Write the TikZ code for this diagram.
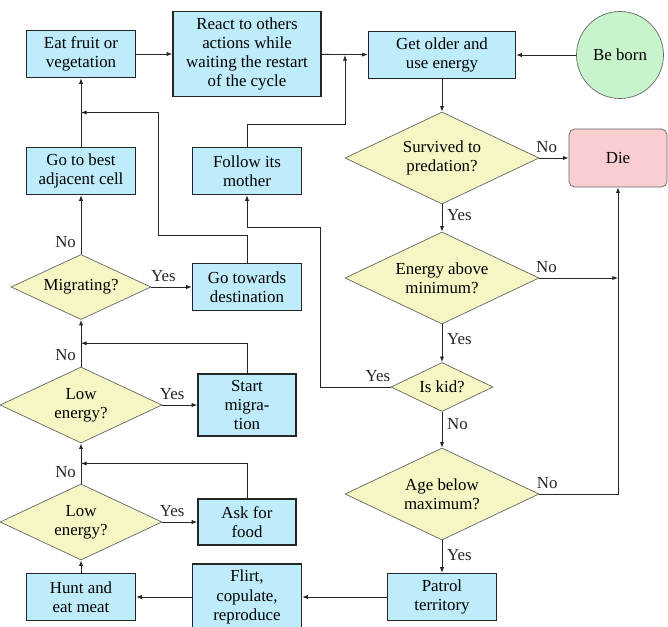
\documentclass[tikz,border=0pt]{standalone}
\usepackage{fontspec}
\setmainfont{Liberation Serif}
\usepackage{xcolor}
\definecolor{stepblue}{RGB}{190,236,250}
\definecolor{askyellow}{RGB}{246,246,196}
\definecolor{diepink}{RGB}{250,205,208}
\definecolor{borngreen}{RGB}{200,244,204}
\usetikzlibrary{shapes.geometric, arrows.meta, positioning, calc}
\tikzset{
  actbox/.style={
    rectangle, draw=black!85, fill=stepblue, line width=0.9pt,
    minimum width=2.725cm, minimum height=1.175cm,
    align=center, inner sep=1pt
  },
  decision/.style={
    diamond, aspect=2, draw=black!60, fill=askyellow, line width=0.5pt,
    align=center, inner sep=0pt
  },
  endbox/.style={
    rectangle, rounded corners=4pt, draw=black!60, fill=diepink, line width=0.5pt,
    minimum width=2.45cm, minimum height=1.45cm, align=center
  },
  bornnode/.style={
    circle, draw=black!60, fill=borngreen, line width=0.5pt,
    minimum size=2.175cm, align=center
  },
  arrow/.style={line width=0.6pt, -{Latex[length=4pt, width=3pt]}, color=black!85},
}

\begin{document}
\begin{tikzpicture}[on grid, font=\fontsize{12}{13.7}\selectfont]
  \useasboundingbox (0,0) rectangle (16.7,-15.675);

  % --- Right column: life cycle checks ---
  \node (older) [actbox, minimum width=3.675cm] at (11.05,-1.375) {Get older and\\use energy};
  \node (born) [bornnode, right=4.45cm of older] {Be born};
  \node (survived) [decision, minimum width=4.85cm, minimum height=2.3cm, below=2.575cm of older]
        {Survived to\\predation?};
  \node (die) [endbox, right=4.4cm of survived] {Die};
  \node (energy) [decision, minimum width=4.85cm, minimum height=2.3cm, below=3.0cm of survived]
        {Energy above\\minimum?};
  \node (kid) [decision, minimum width=2.55cm, minimum height=1.225cm, below=2.725cm of energy]
        {Is kid?};
  \node (age) [decision, minimum width=4.85cm, minimum height=2.3cm, below=2.675cm of kid]
        {Age below\\maximum?};
  \node (patrol) [actbox, below=2.575cm of age] {Patrol\\territory};

  % --- Bottom row ---
  \node (flirt) [actbox, minimum height=1.65cm, left=4.875cm of patrol] {Flirt,\\copulate,\\reproduce};
  \node (hunt) [actbox, left=4.15cm of flirt] {Hunt and\\eat meat};

  % --- Left column: feeding and moving ---
  \node (lowtwo) [decision, minimum width=4.05cm, minimum height=1.9cm, above=1.875cm of hunt]
        {Low\\energy?};
  \node (lowone) [decision, minimum width=4.05cm, minimum height=1.9cm, above=2.925cm of lowtwo]
        {Low\\energy?};
  \node (migrating) [decision, minimum width=3.5cm, minimum height=1.625cm, above=2.95cm of lowone]
        {Migrating?};
  \node (best) [actbox, above=2.9cm of migrating] {Go to best\\adjacent cell};
  \node (eat) [actbox, above=2.925cm of best] {Eat fruit or\\vegetation};

  % --- Middle column ---
  \node (react) [actbox, minimum width=3.7cm, minimum height=2.125cm, right=4.15cm of eat]
        {React to others\\actions while\\waiting the restart\\of the cycle};
  \node (follow) [actbox, right=4.15cm of best] {Follow its\\mother};
  \node (towards) [actbox, right=4.15cm of migrating] {Go towards\\destination};
  \node (startmig) [actbox, minimum width=2.45cm, minimum height=1.55cm, right=4.15cm of lowone]
        {Start\\migra-\\tion};
  \node (ask) [actbox, minimum width=2.45cm, minimum height=1.15cm, right=4.15cm of lowtwo]
        {Ask for\\food};

  % --- Bend points ---
  \coordinate (diecol) at (die.south |- energy.east);
  \coordinate (followturn) at (8.625,-3.1);
  \coordinate (kidturn) at (8.0,-5.675);
  \coordinate (towardsturn) at (3.95,-5.875);
  \coordinate (besttop) at ($(best.north)!0.5!(eat.south)$);
  \coordinate (migtop) at ($(lowone.north)!0.5!(migrating.south)$);
  \coordinate (asktop) at ($(lowtwo.north)!0.5!(lowone.south)$);

  % --- Right column flow ---
  \draw[arrow] (born) -- (older);
  \draw[arrow] (older) -- (survived);
  \draw[arrow] (survived) -- node[above, pos=0.25]{No} (die);
  \draw[arrow] (survived) -- node[right, pos=0.4]{Yes} (energy);
  \draw[arrow] (energy.east) -- node[above, pos=0.09]{No} (diecol);
  \draw[arrow] (energy) -- node[right, pos=0.4]{Yes} (kid);
  \draw[arrow] (kid) -- node[right, pos=0.35]{No} (age);
  \draw[arrow] (age.east) -| node[above, pos=0.05]{No} (die.south);
  \draw[arrow] (age) -- node[right, pos=0.45]{Yes} (patrol);
  \draw[arrow] (kid.west) -| node[above, pos=0.09]{Yes} (kidturn) -| (follow.south);

  % --- Bottom and left flow ---
  \draw[arrow] (patrol) -- (flirt);
  \draw[arrow] (flirt) -- (hunt);
  \draw[arrow] (hunt) -- (lowtwo);
  \draw[arrow] (lowtwo) -- node[above, pos=0.28]{Yes} (ask);
  \draw[arrow] (lowtwo) -- node[left, pos=0.3]{No} (lowone);
  \draw[arrow] (ask.north) |- (asktop);
  \draw[arrow] (lowone) -- node[above, pos=0.28]{Yes} (startmig);
  \draw[arrow] (lowone) -- node[left, pos=0.25]{No} (migrating);
  \draw[arrow] (startmig.north) |- (migtop);
  \draw[arrow] (migrating) -- node[above, pos=0.3]{Yes} (towards);
  \draw[arrow] (migrating) -- node[left, pos=0.2]{No} (best);
  \draw[arrow] (towards.north) |- (towardsturn) |- (besttop);
  \draw[arrow] (best) -- (eat);

  % --- Top row ---
  \draw[arrow] (eat) -- (react);
  \draw[arrow] (react) -- (older);
  \draw[arrow] (follow.north) |- (followturn) -- (followturn |- older.west);

\end{tikzpicture}
\end{document}
